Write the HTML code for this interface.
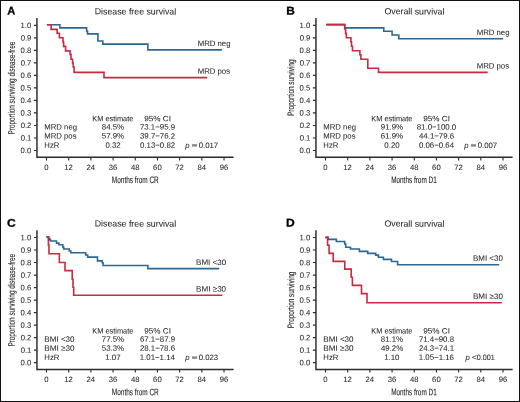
<!DOCTYPE html>
<html><head><meta charset="utf-8"><title>Kaplan-Meier survival curves</title><style>
html,body{margin:0;padding:0;background:#fff;}
body{width:520px;height:402px;overflow:hidden;font-family:"Liberation Sans",sans-serif;}
svg{display:block;will-change:transform;font-kerning:none;}
text{font-kerning:none;}
</style></head><body>
<svg width="520" height="402" viewBox="0 0 520 402" fill="#1e1e1e" font-family="'Liberation Sans', sans-serif">
<rect x="0" y="0" width="520" height="402" fill="#fff"/>
<rect x="0.5" y="0.5" width="519" height="401" fill="none" stroke="#111" stroke-width="1"/>
<text x="7.22" y="14.45" font-size="11.20" textLength="8.07" lengthAdjust="spacingAndGlyphs" font-weight="bold" fill="#000" transform="rotate(0.2 11.26 14.45)" stroke="#000" stroke-width="0.3">A</text>
<text x="94.78" y="14.50" font-size="8.90" textLength="81.41" lengthAdjust="spacingAndGlyphs" transform="rotate(0.2 135.48 14.50)" stroke="#1e1e1e" stroke-width="0.04">Disease free survival</text>
<path d="M36.95,18.1 V157.3 H233.6" fill="none" stroke="#2a2a2a" stroke-width="1.45"/>
<path d="M33.9,25.35 H36.9 M33.9,37.86 H36.9 M33.9,50.37 H36.9 M33.9,62.88 H36.9 M33.9,75.39 H36.9 M33.9,87.90 H36.9 M33.9,100.41 H36.9 M33.9,112.92 H36.9 M33.9,125.43 H36.9 M33.9,137.94 H36.9 M33.9,150.45 H36.9 M46.50,157.3 V160.4 M68.69,157.3 V160.4 M90.88,157.3 V160.4 M113.07,157.3 V160.4 M135.26,157.3 V160.4 M157.45,157.3 V160.4 M179.64,157.3 V160.4 M201.83,157.3 V160.4 M224.02,157.3 V160.4 " fill="none" stroke="#2a2a2a" stroke-width="1.1"/>
<text x="20.57" y="28.03" font-size="7.80" textLength="10.73" lengthAdjust="spacingAndGlyphs" transform="rotate(0.2 25.94 28.03)" stroke="#1e1e1e" stroke-width="0.04">1.0</text>
<text x="20.63" y="40.54" font-size="7.80" textLength="10.73" lengthAdjust="spacingAndGlyphs" transform="rotate(0.2 26.00 40.54)" stroke="#1e1e1e" stroke-width="0.04">0.9</text>
<text x="20.60" y="53.05" font-size="7.80" textLength="10.73" lengthAdjust="spacingAndGlyphs" transform="rotate(0.2 25.97 53.05)" stroke="#1e1e1e" stroke-width="0.04">0.8</text>
<text x="20.66" y="65.56" font-size="7.80" textLength="10.73" lengthAdjust="spacingAndGlyphs" transform="rotate(0.2 26.02 65.56)" stroke="#1e1e1e" stroke-width="0.04">0.7</text>
<text x="20.61" y="78.07" font-size="7.80" textLength="10.73" lengthAdjust="spacingAndGlyphs" transform="rotate(0.2 25.97 78.07)" stroke="#1e1e1e" stroke-width="0.04">0.6</text>
<text x="20.59" y="90.58" font-size="7.80" textLength="10.73" lengthAdjust="spacingAndGlyphs" transform="rotate(0.2 25.96 90.58)" stroke="#1e1e1e" stroke-width="0.04">0.5</text>
<text x="20.49" y="103.09" font-size="7.80" textLength="10.73" lengthAdjust="spacingAndGlyphs" transform="rotate(0.2 25.86 103.09)" stroke="#1e1e1e" stroke-width="0.04">0.4</text>
<text x="20.61" y="115.60" font-size="7.80" textLength="10.73" lengthAdjust="spacingAndGlyphs" transform="rotate(0.2 25.97 115.60)" stroke="#1e1e1e" stroke-width="0.04">0.3</text>
<text x="20.66" y="128.11" font-size="7.80" textLength="10.73" lengthAdjust="spacingAndGlyphs" transform="rotate(0.2 26.02 128.11)" stroke="#1e1e1e" stroke-width="0.04">0.2</text>
<text x="20.65" y="140.62" font-size="7.80" textLength="10.73" lengthAdjust="spacingAndGlyphs" transform="rotate(0.2 26.01 140.62)" stroke="#1e1e1e" stroke-width="0.04">0.1</text>
<text x="20.57" y="153.13" font-size="7.80" textLength="10.73" lengthAdjust="spacingAndGlyphs" transform="rotate(0.2 25.94 153.13)" stroke="#1e1e1e" stroke-width="0.04">0.0</text>
<text x="44.35" y="169.90" font-size="7.80" textLength="4.29" lengthAdjust="spacingAndGlyphs" transform="rotate(0.2 46.50 169.90)" stroke="#1e1e1e" stroke-width="0.04">0</text>
<text x="64.30" y="169.90" font-size="7.80" textLength="8.59" lengthAdjust="spacingAndGlyphs" transform="rotate(0.2 68.59 169.90)" stroke="#1e1e1e" stroke-width="0.04">12</text>
<text x="86.51" y="169.90" font-size="7.80" textLength="8.59" lengthAdjust="spacingAndGlyphs" transform="rotate(0.2 90.80 169.90)" stroke="#1e1e1e" stroke-width="0.04">24</text>
<text x="108.80" y="169.90" font-size="7.80" textLength="8.59" lengthAdjust="spacingAndGlyphs" transform="rotate(0.2 113.09 169.90)" stroke="#1e1e1e" stroke-width="0.04">36</text>
<text x="131.05" y="169.90" font-size="7.80" textLength="8.59" lengthAdjust="spacingAndGlyphs" transform="rotate(0.2 135.34 169.90)" stroke="#1e1e1e" stroke-width="0.04">48</text>
<text x="153.11" y="169.90" font-size="7.80" textLength="8.59" lengthAdjust="spacingAndGlyphs" transform="rotate(0.2 157.40 169.90)" stroke="#1e1e1e" stroke-width="0.04">60</text>
<text x="175.34" y="169.90" font-size="7.80" textLength="8.59" lengthAdjust="spacingAndGlyphs" transform="rotate(0.2 179.64 169.90)" stroke="#1e1e1e" stroke-width="0.04">72</text>
<text x="197.48" y="169.90" font-size="7.80" textLength="8.59" lengthAdjust="spacingAndGlyphs" transform="rotate(0.2 201.78 169.90)" stroke="#1e1e1e" stroke-width="0.04">84</text>
<text x="219.72" y="169.90" font-size="7.80" textLength="8.59" lengthAdjust="spacingAndGlyphs" transform="rotate(0.2 224.01 169.90)" stroke="#1e1e1e" stroke-width="0.04">96</text>
<text x="111.87" y="183.00" font-size="9.40" textLength="46.83" lengthAdjust="spacingAndGlyphs" transform="rotate(0.2 135.29 183.00)" stroke="#1e1e1e" stroke-width="0.1">Months from CR</text>
<text x="-46.47" y="0" font-size="9.40" textLength="92.70" lengthAdjust="spacingAndGlyphs" transform="translate(14.80 87.95) rotate(-89.8)" stroke="#1e1e1e" stroke-width="0.1">Proportion surviving disease-free</text>
<path d="M46.9,24.8 H59.8 V27.85 H86.6 V31 H87.5 V33.9 H97.9 V41.0 H102.8 V44.1 H147.9 V49.9 H221.9" fill="none" stroke="#2b6894" stroke-width="1.6"/>
<path d="M46.9,24.8 H51.1 V29.4 H57.1 V33.2 H59.4 V37.8 H63.0 V42.0 H63.6 V46.4 H65.6 V50.9 H70.1 V54.4 H71.0 V59.2 H72.6 V63 H73.2 V67 H74.1 V72.4 H104 V77.6 H207.1" fill="none" stroke="#c92a3e" stroke-width="1.6"/>
<text x="197.76" y="46.10" font-size="7.80" textLength="32.74" lengthAdjust="spacingAndGlyphs" transform="rotate(0.2 214.13 46.10)" stroke="#1e1e1e" stroke-width="0.04">MRD neg</text>
<text x="197.76" y="73.80" font-size="7.80" textLength="32.32" lengthAdjust="spacingAndGlyphs" transform="rotate(0.2 213.92 73.80)" stroke="#1e1e1e" stroke-width="0.04">MRD pos</text>
<text x="92.29" y="121.30" font-size="7.80" textLength="41.03" lengthAdjust="spacingAndGlyphs" transform="rotate(0.2 112.81 121.30)" stroke="#1e1e1e" stroke-width="0.04">KM estimate</text>
<text x="144.22" y="121.30" font-size="7.80" textLength="26.73" lengthAdjust="spacingAndGlyphs" transform="rotate(0.2 157.59 121.30)" stroke="#1e1e1e" stroke-width="0.04">95% CI</text>
<text x="44.37" y="129.60" font-size="7.80" textLength="32.61" lengthAdjust="spacingAndGlyphs" transform="rotate(0.2 60.67 129.60)" stroke="#1e1e1e" stroke-width="0.04">MRD neg</text>
<text x="101.84" y="129.60" font-size="7.80" textLength="22.26" lengthAdjust="spacingAndGlyphs" transform="rotate(0.2 112.97 129.60)" stroke="#1e1e1e" stroke-width="0.04">84.5%</text>
<text x="139.91" y="129.60" font-size="7.80" textLength="35.14" lengthAdjust="spacingAndGlyphs" transform="rotate(0.2 157.48 129.60)" stroke="#1e1e1e" stroke-width="0.04">73.1−95.9</text>
<text x="44.37" y="138.60" font-size="7.80" textLength="32.17" lengthAdjust="spacingAndGlyphs" transform="rotate(0.2 60.45 138.60)" stroke="#1e1e1e" stroke-width="0.04">MRD pos</text>
<text x="101.85" y="138.60" font-size="7.80" textLength="22.26" lengthAdjust="spacingAndGlyphs" transform="rotate(0.2 112.98 138.60)" stroke="#1e1e1e" stroke-width="0.04">57.9%</text>
<text x="139.98" y="138.60" font-size="7.80" textLength="35.14" lengthAdjust="spacingAndGlyphs" transform="rotate(0.2 157.55 138.60)" stroke="#1e1e1e" stroke-width="0.04">39.7−76.2</text>
<text x="44.37" y="147.70" font-size="7.80" textLength="15.01" lengthAdjust="spacingAndGlyphs" transform="rotate(0.2 51.87 147.70)" stroke="#1e1e1e" stroke-width="0.04">HzR</text>
<text x="105.40" y="147.70" font-size="7.80" textLength="15.28" lengthAdjust="spacingAndGlyphs" transform="rotate(0.2 113.04 147.70)" stroke="#1e1e1e" stroke-width="0.04">0.32</text>
<text x="139.97" y="147.70" font-size="7.80" textLength="35.14" lengthAdjust="spacingAndGlyphs" transform="rotate(0.2 157.54 147.70)" stroke="#1e1e1e" stroke-width="0.04">0.13−0.82</text>
<text x="185.29" y="147.90" font-size="7.80" textLength="4.29" lengthAdjust="spacingAndGlyphs" font-style="italic" transform="rotate(0.2 187.44 147.90)" stroke="#1e1e1e" stroke-width="0.04">p</text>
<rect x="191.90" y="144.20" width="5.20" height="2.4" fill="#888"/>
<text x="198.70" y="147.90" font-size="7.80" textLength="19.50" lengthAdjust="spacingAndGlyphs" transform="rotate(0.2 208.44 147.90)" stroke="#1e1e1e" stroke-width="0.04">0.017</text>
<text x="286.20" y="14.45" font-size="11.20" textLength="8.59" lengthAdjust="spacingAndGlyphs" font-weight="bold" fill="#000" transform="rotate(0.2 290.50 14.45)" stroke="#000" stroke-width="0.3">B</text>
<text x="384.48" y="14.40" font-size="8.90" textLength="59.95" lengthAdjust="spacingAndGlyphs" transform="rotate(0.2 414.46 14.40)" stroke="#1e1e1e" stroke-width="0.04">Overall survival</text>
<path d="M315.95,18.1 V157.3 H512.6" fill="none" stroke="#2a2a2a" stroke-width="1.45"/>
<path d="M312.9,25.35 H315.9 M312.9,37.86 H315.9 M312.9,50.37 H315.9 M312.9,62.88 H315.9 M312.9,75.39 H315.9 M312.9,87.90 H315.9 M312.9,100.41 H315.9 M312.9,112.92 H315.9 M312.9,125.43 H315.9 M312.9,137.94 H315.9 M312.9,150.45 H315.9 M325.50,157.3 V160.4 M347.69,157.3 V160.4 M369.88,157.3 V160.4 M392.07,157.3 V160.4 M414.26,157.3 V160.4 M436.45,157.3 V160.4 M458.64,157.3 V160.4 M480.83,157.3 V160.4 M503.02,157.3 V160.4 " fill="none" stroke="#2a2a2a" stroke-width="1.1"/>
<text x="299.57" y="28.03" font-size="7.80" textLength="10.73" lengthAdjust="spacingAndGlyphs" transform="rotate(0.2 304.94 28.03)" stroke="#1e1e1e" stroke-width="0.04">1.0</text>
<text x="299.63" y="40.54" font-size="7.80" textLength="10.73" lengthAdjust="spacingAndGlyphs" transform="rotate(0.2 305.00 40.54)" stroke="#1e1e1e" stroke-width="0.04">0.9</text>
<text x="299.60" y="53.05" font-size="7.80" textLength="10.73" lengthAdjust="spacingAndGlyphs" transform="rotate(0.2 304.97 53.05)" stroke="#1e1e1e" stroke-width="0.04">0.8</text>
<text x="299.66" y="65.56" font-size="7.80" textLength="10.73" lengthAdjust="spacingAndGlyphs" transform="rotate(0.2 305.02 65.56)" stroke="#1e1e1e" stroke-width="0.04">0.7</text>
<text x="299.61" y="78.07" font-size="7.80" textLength="10.73" lengthAdjust="spacingAndGlyphs" transform="rotate(0.2 304.97 78.07)" stroke="#1e1e1e" stroke-width="0.04">0.6</text>
<text x="299.59" y="90.58" font-size="7.80" textLength="10.73" lengthAdjust="spacingAndGlyphs" transform="rotate(0.2 304.96 90.58)" stroke="#1e1e1e" stroke-width="0.04">0.5</text>
<text x="299.49" y="103.09" font-size="7.80" textLength="10.73" lengthAdjust="spacingAndGlyphs" transform="rotate(0.2 304.86 103.09)" stroke="#1e1e1e" stroke-width="0.04">0.4</text>
<text x="299.61" y="115.60" font-size="7.80" textLength="10.73" lengthAdjust="spacingAndGlyphs" transform="rotate(0.2 304.97 115.60)" stroke="#1e1e1e" stroke-width="0.04">0.3</text>
<text x="299.66" y="128.11" font-size="7.80" textLength="10.73" lengthAdjust="spacingAndGlyphs" transform="rotate(0.2 305.02 128.11)" stroke="#1e1e1e" stroke-width="0.04">0.2</text>
<text x="299.65" y="140.62" font-size="7.80" textLength="10.73" lengthAdjust="spacingAndGlyphs" transform="rotate(0.2 305.01 140.62)" stroke="#1e1e1e" stroke-width="0.04">0.1</text>
<text x="299.57" y="153.13" font-size="7.80" textLength="10.73" lengthAdjust="spacingAndGlyphs" transform="rotate(0.2 304.94 153.13)" stroke="#1e1e1e" stroke-width="0.04">0.0</text>
<text x="323.35" y="169.90" font-size="7.80" textLength="4.29" lengthAdjust="spacingAndGlyphs" transform="rotate(0.2 325.50 169.90)" stroke="#1e1e1e" stroke-width="0.04">0</text>
<text x="343.30" y="169.90" font-size="7.80" textLength="8.59" lengthAdjust="spacingAndGlyphs" transform="rotate(0.2 347.59 169.90)" stroke="#1e1e1e" stroke-width="0.04">12</text>
<text x="365.51" y="169.90" font-size="7.80" textLength="8.59" lengthAdjust="spacingAndGlyphs" transform="rotate(0.2 369.80 169.90)" stroke="#1e1e1e" stroke-width="0.04">24</text>
<text x="387.80" y="169.90" font-size="7.80" textLength="8.59" lengthAdjust="spacingAndGlyphs" transform="rotate(0.2 392.09 169.90)" stroke="#1e1e1e" stroke-width="0.04">36</text>
<text x="410.05" y="169.90" font-size="7.80" textLength="8.59" lengthAdjust="spacingAndGlyphs" transform="rotate(0.2 414.34 169.90)" stroke="#1e1e1e" stroke-width="0.04">48</text>
<text x="432.11" y="169.90" font-size="7.80" textLength="8.59" lengthAdjust="spacingAndGlyphs" transform="rotate(0.2 436.40 169.90)" stroke="#1e1e1e" stroke-width="0.04">60</text>
<text x="454.34" y="169.90" font-size="7.80" textLength="8.59" lengthAdjust="spacingAndGlyphs" transform="rotate(0.2 458.64 169.90)" stroke="#1e1e1e" stroke-width="0.04">72</text>
<text x="476.48" y="169.90" font-size="7.80" textLength="8.59" lengthAdjust="spacingAndGlyphs" transform="rotate(0.2 480.78 169.90)" stroke="#1e1e1e" stroke-width="0.04">84</text>
<text x="498.72" y="169.90" font-size="7.80" textLength="8.59" lengthAdjust="spacingAndGlyphs" transform="rotate(0.2 503.01 169.90)" stroke="#1e1e1e" stroke-width="0.04">96</text>
<text x="391.17" y="183.00" font-size="9.40" textLength="45.54" lengthAdjust="spacingAndGlyphs" transform="rotate(0.2 413.94 183.00)" stroke="#1e1e1e" stroke-width="0.1">Months from D1</text>
<text x="-28.25" y="0" font-size="9.40" textLength="56.38" lengthAdjust="spacingAndGlyphs" transform="translate(294.10 87.68) rotate(-89.8)" stroke="#1e1e1e" stroke-width="0.1">Proportion surviving</text>
<path d="M326.3,24.6 H344.8 V27.85 H383.8 V31.3 H392.1 V35 H398.8 V38.7 H503.1" fill="none" stroke="#2b6894" stroke-width="1.6"/>
<path d="M326.3,24.6 H344.7 V29 H345.6 V33.4 H346.4 V37.7 H350.9 V41.8 H351.5 V46.3 H352.5 V50.8 H359.9 V54.7 H360.9 V59.3 H367.8 V68.3 H378.5 V72.4 H487.7" fill="none" stroke="#c92a3e" stroke-width="1.6"/>
<text x="476.66" y="35.00" font-size="7.80" textLength="32.84" lengthAdjust="spacingAndGlyphs" transform="rotate(0.2 493.08 35.00)" stroke="#1e1e1e" stroke-width="0.04">MRD neg</text>
<text x="476.66" y="68.50" font-size="7.80" textLength="32.42" lengthAdjust="spacingAndGlyphs" transform="rotate(0.2 492.87 68.50)" stroke="#1e1e1e" stroke-width="0.04">MRD pos</text>
<text x="371.29" y="121.30" font-size="7.80" textLength="41.03" lengthAdjust="spacingAndGlyphs" transform="rotate(0.2 391.81 121.30)" stroke="#1e1e1e" stroke-width="0.04">KM estimate</text>
<text x="423.22" y="121.30" font-size="7.80" textLength="26.73" lengthAdjust="spacingAndGlyphs" transform="rotate(0.2 436.59 121.30)" stroke="#1e1e1e" stroke-width="0.04">95% CI</text>
<text x="323.37" y="129.60" font-size="7.80" textLength="32.61" lengthAdjust="spacingAndGlyphs" transform="rotate(0.2 339.67 129.60)" stroke="#1e1e1e" stroke-width="0.04">MRD neg</text>
<text x="380.83" y="129.60" font-size="7.80" textLength="22.26" lengthAdjust="spacingAndGlyphs" transform="rotate(0.2 391.96 129.60)" stroke="#1e1e1e" stroke-width="0.04">91.9%</text>
<text x="416.73" y="129.60" font-size="7.80" textLength="39.51" lengthAdjust="spacingAndGlyphs" transform="rotate(0.2 436.48 129.60)" stroke="#1e1e1e" stroke-width="0.04">81.0−100.0</text>
<text x="323.37" y="138.60" font-size="7.80" textLength="32.17" lengthAdjust="spacingAndGlyphs" transform="rotate(0.2 339.45 138.60)" stroke="#1e1e1e" stroke-width="0.04">MRD pos</text>
<text x="380.81" y="138.60" font-size="7.80" textLength="22.26" lengthAdjust="spacingAndGlyphs" transform="rotate(0.2 391.94 138.60)" stroke="#1e1e1e" stroke-width="0.04">61.9%</text>
<text x="419.01" y="138.60" font-size="7.80" textLength="35.14" lengthAdjust="spacingAndGlyphs" transform="rotate(0.2 436.58 138.60)" stroke="#1e1e1e" stroke-width="0.04">44.1−79.6</text>
<text x="323.37" y="147.70" font-size="7.80" textLength="15.01" lengthAdjust="spacingAndGlyphs" transform="rotate(0.2 330.87 147.70)" stroke="#1e1e1e" stroke-width="0.04">HzR</text>
<text x="384.36" y="147.70" font-size="7.80" textLength="15.28" lengthAdjust="spacingAndGlyphs" transform="rotate(0.2 392.00 147.70)" stroke="#1e1e1e" stroke-width="0.04">0.20</text>
<text x="418.89" y="147.70" font-size="7.80" textLength="35.14" lengthAdjust="spacingAndGlyphs" transform="rotate(0.2 436.46 147.70)" stroke="#1e1e1e" stroke-width="0.04">0.06−0.64</text>
<text x="464.29" y="147.90" font-size="7.80" textLength="4.29" lengthAdjust="spacingAndGlyphs" font-style="italic" transform="rotate(0.2 466.44 147.90)" stroke="#1e1e1e" stroke-width="0.04">p</text>
<rect x="470.90" y="144.20" width="5.20" height="2.4" fill="#888"/>
<text x="477.70" y="147.90" font-size="7.80" textLength="19.50" lengthAdjust="spacingAndGlyphs" transform="rotate(0.2 487.44 147.90)" stroke="#1e1e1e" stroke-width="0.04">0.007</text>
<text x="7.00" y="226.80" font-size="11.20" textLength="8.73" lengthAdjust="spacingAndGlyphs" font-weight="bold" fill="#000" transform="rotate(0.2 11.37 226.80)" stroke="#000" stroke-width="0.3">C</text>
<text x="94.78" y="226.70" font-size="8.90" textLength="81.41" lengthAdjust="spacingAndGlyphs" transform="rotate(0.2 135.48 226.70)" stroke="#1e1e1e" stroke-width="0.04">Disease free survival</text>
<path d="M36.95,230.29999999999998 V369.5 H233.6" fill="none" stroke="#2a2a2a" stroke-width="1.45"/>
<path d="M33.9,237.55 H36.9 M33.9,250.06 H36.9 M33.9,262.57 H36.9 M33.9,275.08 H36.9 M33.9,287.59 H36.9 M33.9,300.10 H36.9 M33.9,312.61 H36.9 M33.9,325.12 H36.9 M33.9,337.63 H36.9 M33.9,350.14 H36.9 M33.9,362.65 H36.9 M46.50,369.5 V372.6 M68.69,369.5 V372.6 M90.88,369.5 V372.6 M113.07,369.5 V372.6 M135.26,369.5 V372.6 M157.45,369.5 V372.6 M179.64,369.5 V372.6 M201.83,369.5 V372.6 M224.02,369.5 V372.6 " fill="none" stroke="#2a2a2a" stroke-width="1.1"/>
<text x="20.57" y="240.23" font-size="7.80" textLength="10.73" lengthAdjust="spacingAndGlyphs" transform="rotate(0.2 25.94 240.23)" stroke="#1e1e1e" stroke-width="0.04">1.0</text>
<text x="20.63" y="252.74" font-size="7.80" textLength="10.73" lengthAdjust="spacingAndGlyphs" transform="rotate(0.2 26.00 252.74)" stroke="#1e1e1e" stroke-width="0.04">0.9</text>
<text x="20.60" y="265.25" font-size="7.80" textLength="10.73" lengthAdjust="spacingAndGlyphs" transform="rotate(0.2 25.97 265.25)" stroke="#1e1e1e" stroke-width="0.04">0.8</text>
<text x="20.66" y="277.76" font-size="7.80" textLength="10.73" lengthAdjust="spacingAndGlyphs" transform="rotate(0.2 26.02 277.76)" stroke="#1e1e1e" stroke-width="0.04">0.7</text>
<text x="20.61" y="290.27" font-size="7.80" textLength="10.73" lengthAdjust="spacingAndGlyphs" transform="rotate(0.2 25.97 290.27)" stroke="#1e1e1e" stroke-width="0.04">0.6</text>
<text x="20.59" y="302.78" font-size="7.80" textLength="10.73" lengthAdjust="spacingAndGlyphs" transform="rotate(0.2 25.96 302.78)" stroke="#1e1e1e" stroke-width="0.04">0.5</text>
<text x="20.49" y="315.29" font-size="7.80" textLength="10.73" lengthAdjust="spacingAndGlyphs" transform="rotate(0.2 25.86 315.29)" stroke="#1e1e1e" stroke-width="0.04">0.4</text>
<text x="20.61" y="327.80" font-size="7.80" textLength="10.73" lengthAdjust="spacingAndGlyphs" transform="rotate(0.2 25.97 327.80)" stroke="#1e1e1e" stroke-width="0.04">0.3</text>
<text x="20.66" y="340.31" font-size="7.80" textLength="10.73" lengthAdjust="spacingAndGlyphs" transform="rotate(0.2 26.02 340.31)" stroke="#1e1e1e" stroke-width="0.04">0.2</text>
<text x="20.65" y="352.82" font-size="7.80" textLength="10.73" lengthAdjust="spacingAndGlyphs" transform="rotate(0.2 26.01 352.82)" stroke="#1e1e1e" stroke-width="0.04">0.1</text>
<text x="20.57" y="365.33" font-size="7.80" textLength="10.73" lengthAdjust="spacingAndGlyphs" transform="rotate(0.2 25.94 365.33)" stroke="#1e1e1e" stroke-width="0.04">0.0</text>
<text x="44.35" y="382.10" font-size="7.80" textLength="4.29" lengthAdjust="spacingAndGlyphs" transform="rotate(0.2 46.50 382.10)" stroke="#1e1e1e" stroke-width="0.04">0</text>
<text x="64.30" y="382.10" font-size="7.80" textLength="8.59" lengthAdjust="spacingAndGlyphs" transform="rotate(0.2 68.59 382.10)" stroke="#1e1e1e" stroke-width="0.04">12</text>
<text x="86.51" y="382.10" font-size="7.80" textLength="8.59" lengthAdjust="spacingAndGlyphs" transform="rotate(0.2 90.80 382.10)" stroke="#1e1e1e" stroke-width="0.04">24</text>
<text x="108.80" y="382.10" font-size="7.80" textLength="8.59" lengthAdjust="spacingAndGlyphs" transform="rotate(0.2 113.09 382.10)" stroke="#1e1e1e" stroke-width="0.04">36</text>
<text x="131.05" y="382.10" font-size="7.80" textLength="8.59" lengthAdjust="spacingAndGlyphs" transform="rotate(0.2 135.34 382.10)" stroke="#1e1e1e" stroke-width="0.04">48</text>
<text x="153.11" y="382.10" font-size="7.80" textLength="8.59" lengthAdjust="spacingAndGlyphs" transform="rotate(0.2 157.40 382.10)" stroke="#1e1e1e" stroke-width="0.04">60</text>
<text x="175.34" y="382.10" font-size="7.80" textLength="8.59" lengthAdjust="spacingAndGlyphs" transform="rotate(0.2 179.64 382.10)" stroke="#1e1e1e" stroke-width="0.04">72</text>
<text x="197.48" y="382.10" font-size="7.80" textLength="8.59" lengthAdjust="spacingAndGlyphs" transform="rotate(0.2 201.78 382.10)" stroke="#1e1e1e" stroke-width="0.04">84</text>
<text x="219.72" y="382.10" font-size="7.80" textLength="8.59" lengthAdjust="spacingAndGlyphs" transform="rotate(0.2 224.01 382.10)" stroke="#1e1e1e" stroke-width="0.04">96</text>
<text x="111.87" y="395.20" font-size="9.40" textLength="46.83" lengthAdjust="spacingAndGlyphs" transform="rotate(0.2 135.29 395.20)" stroke="#1e1e1e" stroke-width="0.1">Months from CR</text>
<text x="-46.47" y="0" font-size="9.40" textLength="92.70" lengthAdjust="spacingAndGlyphs" transform="translate(14.80 300.15) rotate(-89.8)" stroke="#1e1e1e" stroke-width="0.1">Proportion surviving disease-free</text>
<path d="M46.5,236.9 H48.6 V238.3 H49.6 V239.6 H50.5 V241 H56.5 V243.1 H58.9 V244.8 H62.8 V247 H63.7 V249 H69.3 V251 H70.8 V252.8 H85.7 V255 H87.7 V257.1 H97.5 V260.9 H102.3 V262.7 H103.1 V265.5 H147.9 V268.6 H219.2" fill="none" stroke="#2b6894" stroke-width="1.6"/>
<path d="M46.5,236.9 H48.4 V245.2 H49.0 V253.8 H59.35 V262.5 H65.0 V270.6 H72.2 V279.2 H73.0 V287.3 H73.7 V295.2 H222.3" fill="none" stroke="#c92a3e" stroke-width="1.6"/>
<text x="196.14" y="264.90" font-size="7.80" textLength="29.97" lengthAdjust="spacingAndGlyphs" transform="rotate(0.2 211.13 264.90)" stroke="#1e1e1e" stroke-width="0.04">BMI &lt;30</text>
<text x="196.14" y="291.50" font-size="7.80" textLength="29.98" lengthAdjust="spacingAndGlyphs" transform="rotate(0.2 211.13 291.50)" stroke="#1e1e1e" stroke-width="0.04">BMI ≥30</text>
<text x="92.29" y="333.50" font-size="7.80" textLength="41.03" lengthAdjust="spacingAndGlyphs" transform="rotate(0.2 112.81 333.50)" stroke="#1e1e1e" stroke-width="0.04">KM estimate</text>
<text x="144.22" y="333.50" font-size="7.80" textLength="26.73" lengthAdjust="spacingAndGlyphs" transform="rotate(0.2 157.59 333.50)" stroke="#1e1e1e" stroke-width="0.04">95% CI</text>
<text x="44.34" y="341.80" font-size="7.80" textLength="30.23" lengthAdjust="spacingAndGlyphs" transform="rotate(0.2 59.45 341.80)" stroke="#1e1e1e" stroke-width="0.04">BMI &lt;30</text>
<text x="101.81" y="341.80" font-size="7.80" textLength="22.26" lengthAdjust="spacingAndGlyphs" transform="rotate(0.2 112.94 341.80)" stroke="#1e1e1e" stroke-width="0.04">77.5%</text>
<text x="139.92" y="341.80" font-size="7.80" textLength="35.14" lengthAdjust="spacingAndGlyphs" transform="rotate(0.2 157.49 341.80)" stroke="#1e1e1e" stroke-width="0.04">67.1−87.9</text>
<text x="44.33" y="350.80" font-size="7.80" textLength="30.24" lengthAdjust="spacingAndGlyphs" transform="rotate(0.2 59.45 350.80)" stroke="#1e1e1e" stroke-width="0.04">BMI ≥30</text>
<text x="101.85" y="350.80" font-size="7.80" textLength="22.26" lengthAdjust="spacingAndGlyphs" transform="rotate(0.2 112.98 350.80)" stroke="#1e1e1e" stroke-width="0.04">53.3%</text>
<text x="139.90" y="350.80" font-size="7.80" textLength="35.14" lengthAdjust="spacingAndGlyphs" transform="rotate(0.2 157.48 350.80)" stroke="#1e1e1e" stroke-width="0.04">28.1−78.6</text>
<text x="44.37" y="359.90" font-size="7.80" textLength="15.01" lengthAdjust="spacingAndGlyphs" transform="rotate(0.2 51.87 359.90)" stroke="#1e1e1e" stroke-width="0.04">HzR</text>
<text x="105.26" y="359.90" font-size="7.80" textLength="15.28" lengthAdjust="spacingAndGlyphs" transform="rotate(0.2 112.90 359.90)" stroke="#1e1e1e" stroke-width="0.04">1.07</text>
<text x="139.75" y="359.90" font-size="7.80" textLength="35.14" lengthAdjust="spacingAndGlyphs" transform="rotate(0.2 157.32 359.90)" stroke="#1e1e1e" stroke-width="0.04">1.01−1.14</text>
<text x="185.29" y="360.10" font-size="7.80" textLength="4.29" lengthAdjust="spacingAndGlyphs" font-style="italic" transform="rotate(0.2 187.44 360.10)" stroke="#1e1e1e" stroke-width="0.04">p</text>
<rect x="191.90" y="356.40" width="5.20" height="2.4" fill="#888"/>
<text x="198.70" y="360.10" font-size="7.80" textLength="19.45" lengthAdjust="spacingAndGlyphs" transform="rotate(0.2 208.42 360.10)" stroke="#1e1e1e" stroke-width="0.04">0.023</text>
<text x="285.99" y="226.60" font-size="11.20" textLength="8.71" lengthAdjust="spacingAndGlyphs" font-weight="bold" fill="#000" transform="rotate(0.2 290.35 226.60)" stroke="#000" stroke-width="0.3">D</text>
<text x="384.48" y="226.70" font-size="8.90" textLength="59.95" lengthAdjust="spacingAndGlyphs" transform="rotate(0.2 414.46 226.70)" stroke="#1e1e1e" stroke-width="0.04">Overall survival</text>
<path d="M315.95,230.29999999999998 V369.5 H512.6" fill="none" stroke="#2a2a2a" stroke-width="1.45"/>
<path d="M312.9,237.55 H315.9 M312.9,250.06 H315.9 M312.9,262.57 H315.9 M312.9,275.08 H315.9 M312.9,287.59 H315.9 M312.9,300.10 H315.9 M312.9,312.61 H315.9 M312.9,325.12 H315.9 M312.9,337.63 H315.9 M312.9,350.14 H315.9 M312.9,362.65 H315.9 M325.50,369.5 V372.6 M347.69,369.5 V372.6 M369.88,369.5 V372.6 M392.07,369.5 V372.6 M414.26,369.5 V372.6 M436.45,369.5 V372.6 M458.64,369.5 V372.6 M480.83,369.5 V372.6 M503.02,369.5 V372.6 " fill="none" stroke="#2a2a2a" stroke-width="1.1"/>
<text x="299.57" y="240.23" font-size="7.80" textLength="10.73" lengthAdjust="spacingAndGlyphs" transform="rotate(0.2 304.94 240.23)" stroke="#1e1e1e" stroke-width="0.04">1.0</text>
<text x="299.63" y="252.74" font-size="7.80" textLength="10.73" lengthAdjust="spacingAndGlyphs" transform="rotate(0.2 305.00 252.74)" stroke="#1e1e1e" stroke-width="0.04">0.9</text>
<text x="299.60" y="265.25" font-size="7.80" textLength="10.73" lengthAdjust="spacingAndGlyphs" transform="rotate(0.2 304.97 265.25)" stroke="#1e1e1e" stroke-width="0.04">0.8</text>
<text x="299.66" y="277.76" font-size="7.80" textLength="10.73" lengthAdjust="spacingAndGlyphs" transform="rotate(0.2 305.02 277.76)" stroke="#1e1e1e" stroke-width="0.04">0.7</text>
<text x="299.61" y="290.27" font-size="7.80" textLength="10.73" lengthAdjust="spacingAndGlyphs" transform="rotate(0.2 304.97 290.27)" stroke="#1e1e1e" stroke-width="0.04">0.6</text>
<text x="299.59" y="302.78" font-size="7.80" textLength="10.73" lengthAdjust="spacingAndGlyphs" transform="rotate(0.2 304.96 302.78)" stroke="#1e1e1e" stroke-width="0.04">0.5</text>
<text x="299.49" y="315.29" font-size="7.80" textLength="10.73" lengthAdjust="spacingAndGlyphs" transform="rotate(0.2 304.86 315.29)" stroke="#1e1e1e" stroke-width="0.04">0.4</text>
<text x="299.61" y="327.80" font-size="7.80" textLength="10.73" lengthAdjust="spacingAndGlyphs" transform="rotate(0.2 304.97 327.80)" stroke="#1e1e1e" stroke-width="0.04">0.3</text>
<text x="299.66" y="340.31" font-size="7.80" textLength="10.73" lengthAdjust="spacingAndGlyphs" transform="rotate(0.2 305.02 340.31)" stroke="#1e1e1e" stroke-width="0.04">0.2</text>
<text x="299.65" y="352.82" font-size="7.80" textLength="10.73" lengthAdjust="spacingAndGlyphs" transform="rotate(0.2 305.01 352.82)" stroke="#1e1e1e" stroke-width="0.04">0.1</text>
<text x="299.57" y="365.33" font-size="7.80" textLength="10.73" lengthAdjust="spacingAndGlyphs" transform="rotate(0.2 304.94 365.33)" stroke="#1e1e1e" stroke-width="0.04">0.0</text>
<text x="323.35" y="382.10" font-size="7.80" textLength="4.29" lengthAdjust="spacingAndGlyphs" transform="rotate(0.2 325.50 382.10)" stroke="#1e1e1e" stroke-width="0.04">0</text>
<text x="343.30" y="382.10" font-size="7.80" textLength="8.59" lengthAdjust="spacingAndGlyphs" transform="rotate(0.2 347.59 382.10)" stroke="#1e1e1e" stroke-width="0.04">12</text>
<text x="365.51" y="382.10" font-size="7.80" textLength="8.59" lengthAdjust="spacingAndGlyphs" transform="rotate(0.2 369.80 382.10)" stroke="#1e1e1e" stroke-width="0.04">24</text>
<text x="387.80" y="382.10" font-size="7.80" textLength="8.59" lengthAdjust="spacingAndGlyphs" transform="rotate(0.2 392.09 382.10)" stroke="#1e1e1e" stroke-width="0.04">36</text>
<text x="410.05" y="382.10" font-size="7.80" textLength="8.59" lengthAdjust="spacingAndGlyphs" transform="rotate(0.2 414.34 382.10)" stroke="#1e1e1e" stroke-width="0.04">48</text>
<text x="432.11" y="382.10" font-size="7.80" textLength="8.59" lengthAdjust="spacingAndGlyphs" transform="rotate(0.2 436.40 382.10)" stroke="#1e1e1e" stroke-width="0.04">60</text>
<text x="454.34" y="382.10" font-size="7.80" textLength="8.59" lengthAdjust="spacingAndGlyphs" transform="rotate(0.2 458.64 382.10)" stroke="#1e1e1e" stroke-width="0.04">72</text>
<text x="476.48" y="382.10" font-size="7.80" textLength="8.59" lengthAdjust="spacingAndGlyphs" transform="rotate(0.2 480.78 382.10)" stroke="#1e1e1e" stroke-width="0.04">84</text>
<text x="498.72" y="382.10" font-size="7.80" textLength="8.59" lengthAdjust="spacingAndGlyphs" transform="rotate(0.2 503.01 382.10)" stroke="#1e1e1e" stroke-width="0.04">96</text>
<text x="391.17" y="395.20" font-size="9.40" textLength="45.54" lengthAdjust="spacingAndGlyphs" transform="rotate(0.2 413.94 395.20)" stroke="#1e1e1e" stroke-width="0.1">Months from D1</text>
<text x="-28.25" y="0" font-size="9.40" textLength="56.38" lengthAdjust="spacingAndGlyphs" transform="translate(294.10 299.88) rotate(-89.8)" stroke="#1e1e1e" stroke-width="0.1">Proportion surviving</text>
<path d="M325.4,237.4 H328.3 V239.4 H336.4 V241.5 H344.7 V244 H345.7 V247.3 H350.5 V249 H359.4 V251.4 H367.7 V253.4 H375.7 V255.1 H378.4 V257.2 H383.4 V259.4 H391.5 V261.5 H397.6 V264.7 H499.2" fill="none" stroke="#2b6894" stroke-width="1.6"/>
<path d="M325.4,237.4 H327.6 V245.2 H329.1 V253.4 H333.2 V261.4 H344.8 V269.1 H351.2 V277.3 H352.4 V285.4 H361.5 V293.6 H367 V302.7 H501.8" fill="none" stroke="#c92a3e" stroke-width="1.6"/>
<text x="472.94" y="260.80" font-size="7.80" textLength="29.97" lengthAdjust="spacingAndGlyphs" transform="rotate(0.2 487.93 260.80)" stroke="#1e1e1e" stroke-width="0.04">BMI &lt;30</text>
<text x="472.94" y="298.90" font-size="7.80" textLength="29.98" lengthAdjust="spacingAndGlyphs" transform="rotate(0.2 487.93 298.90)" stroke="#1e1e1e" stroke-width="0.04">BMI ≥30</text>
<text x="371.29" y="333.50" font-size="7.80" textLength="41.03" lengthAdjust="spacingAndGlyphs" transform="rotate(0.2 391.81 333.50)" stroke="#1e1e1e" stroke-width="0.04">KM estimate</text>
<text x="423.22" y="333.50" font-size="7.80" textLength="26.73" lengthAdjust="spacingAndGlyphs" transform="rotate(0.2 436.59 333.50)" stroke="#1e1e1e" stroke-width="0.04">95% CI</text>
<text x="323.34" y="341.80" font-size="7.80" textLength="30.23" lengthAdjust="spacingAndGlyphs" transform="rotate(0.2 338.45 341.80)" stroke="#1e1e1e" stroke-width="0.04">BMI &lt;30</text>
<text x="380.84" y="341.80" font-size="7.80" textLength="22.26" lengthAdjust="spacingAndGlyphs" transform="rotate(0.2 391.97 341.80)" stroke="#1e1e1e" stroke-width="0.04">81.1%</text>
<text x="418.90" y="341.80" font-size="7.80" textLength="35.14" lengthAdjust="spacingAndGlyphs" transform="rotate(0.2 436.47 341.80)" stroke="#1e1e1e" stroke-width="0.04">71.4−90.8</text>
<text x="323.33" y="350.80" font-size="7.80" textLength="30.24" lengthAdjust="spacingAndGlyphs" transform="rotate(0.2 338.45 350.80)" stroke="#1e1e1e" stroke-width="0.04">BMI ≥30</text>
<text x="380.92" y="350.80" font-size="7.80" textLength="22.26" lengthAdjust="spacingAndGlyphs" transform="rotate(0.2 392.05 350.80)" stroke="#1e1e1e" stroke-width="0.04">49.2%</text>
<text x="418.92" y="350.80" font-size="7.80" textLength="35.14" lengthAdjust="spacingAndGlyphs" transform="rotate(0.2 436.49 350.80)" stroke="#1e1e1e" stroke-width="0.04">24.3−74.1</text>
<text x="323.37" y="359.90" font-size="7.80" textLength="15.01" lengthAdjust="spacingAndGlyphs" transform="rotate(0.2 330.87 359.90)" stroke="#1e1e1e" stroke-width="0.04">HzR</text>
<text x="384.22" y="359.90" font-size="7.80" textLength="15.28" lengthAdjust="spacingAndGlyphs" transform="rotate(0.2 391.85 359.90)" stroke="#1e1e1e" stroke-width="0.04">1.10</text>
<text x="418.80" y="359.90" font-size="7.80" textLength="35.14" lengthAdjust="spacingAndGlyphs" transform="rotate(0.2 436.37 359.90)" stroke="#1e1e1e" stroke-width="0.04">1.05−1.16</text>
<text x="465.49" y="360.10" font-size="7.80" textLength="4.29" lengthAdjust="spacingAndGlyphs" font-style="italic" transform="rotate(0.2 467.64 360.10)" stroke="#1e1e1e" stroke-width="0.04">p</text>
<text x="471.87" y="360.10" font-size="7.80" textLength="5.05" lengthAdjust="spacingAndGlyphs" transform="rotate(0.2 474.40 360.10)" stroke="#1e1e1e" stroke-width="0.04">&lt;</text>
<text x="476.82" y="360.10" font-size="7.80" textLength="18.03" lengthAdjust="spacingAndGlyphs" transform="rotate(0.2 485.84 360.10)" stroke="#1e1e1e" stroke-width="0.04">0.001</text>
</svg>
</body></html>
